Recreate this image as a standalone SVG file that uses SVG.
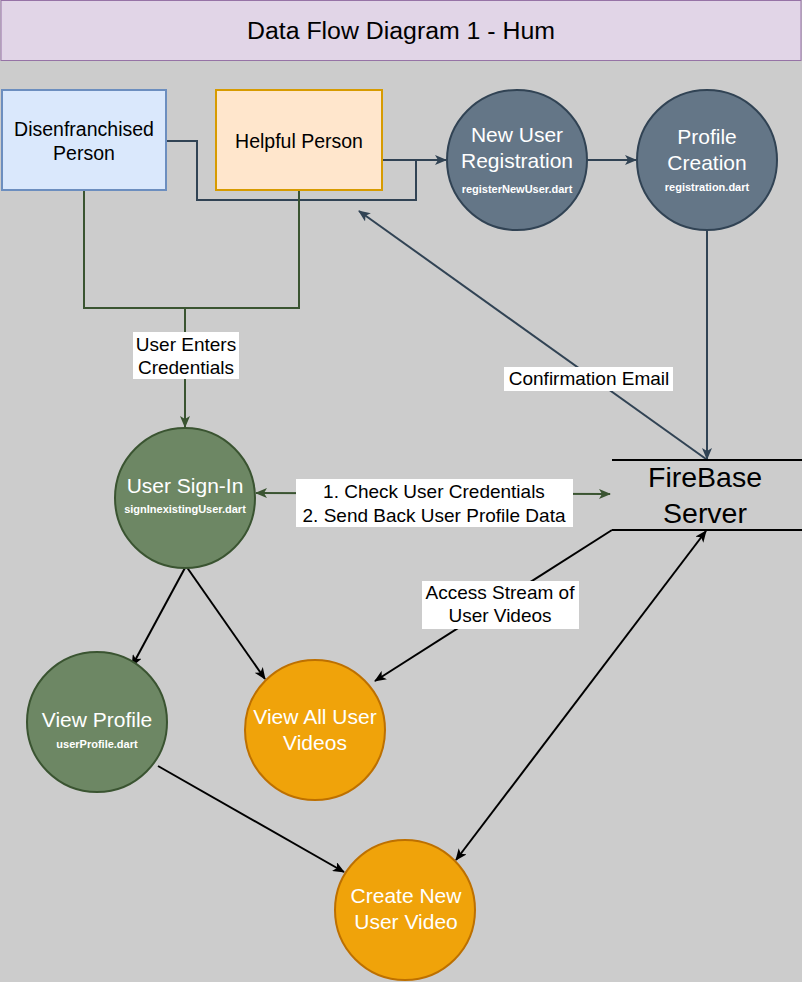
<svg xmlns="http://www.w3.org/2000/svg" width="802" height="982" viewBox="0 0 802 982">
<style>
text{font-family:"Liberation Sans",Arial,sans-serif;}
.lbl{font-size:19px;fill:#000;text-anchor:middle;}
.big{font-size:21px;fill:#fff;text-anchor:middle;}
.small{font-size:11px;fill:#fff;font-weight:bold;text-anchor:middle;}
.slate{fill:#647687;stroke:#314354;stroke-width:2;}
.green{fill:#6d8764;stroke:#3a5431;stroke-width:2;}
.orange{fill:#f0a30a;stroke:#bd7000;stroke-width:2;}
.cs{fill:none;stroke:#314354;stroke-width:2;}
.cg{fill:none;stroke:#3a5431;stroke-width:2;}
.ck{fill:none;stroke:#000;stroke-width:2;}
.bg{fill:#fff;}
</style>
<defs>
<marker id="aS" viewBox="0 0 12 10" refX="11" refY="5" markerWidth="12" markerHeight="10" markerUnits="userSpaceOnUse" orient="auto-start-reverse"><path d="M0,0 L12,5 L0,10 L3,5 Z" fill="#314354"/></marker>
<marker id="aG" viewBox="0 0 12 10" refX="11" refY="5" markerWidth="12" markerHeight="10" markerUnits="userSpaceOnUse" orient="auto-start-reverse"><path d="M0,0 L12,5 L0,10 L3,5 Z" fill="#3a5431"/></marker>
<marker id="aK" viewBox="0 0 12 10" refX="11" refY="5" markerWidth="12" markerHeight="10" markerUnits="userSpaceOnUse" orient="auto-start-reverse"><path d="M0,0 L12,5 L0,10 L3,5 Z" fill="#000"/></marker>
</defs>
<rect x="0" y="0" width="802" height="982" fill="#cccccc"/>

<g id="title">
<rect x="1" y="0.5" width="800" height="60" fill="#e1d5e7" stroke="#9673a6" stroke-width="1"/>
<text x="401" y="39" font-size="23" text-anchor="middle" fill="#000" textLength="308" lengthAdjust="spacingAndGlyphs">Data Flow Diagram 1 - Hum</text>
</g>

<g id="connectors">
<polyline class="cs" points="167,141 197,141 197,200 416,200 416,160"/>
<line class="cs" x1="382" y1="160" x2="446" y2="160" marker-end="url(#aS)"/>
<line class="cs" x1="587" y1="160" x2="636" y2="160" marker-end="url(#aS)"/>
<line class="cs" x1="707" y1="230" x2="707" y2="459" marker-end="url(#aS)"/>
<line class="cs" x1="706" y1="459" x2="359" y2="211" marker-end="url(#aS)"/>
<polyline class="cg" points="84,190 84,308 299,308 299,190"/>
<line class="cg" x1="185" y1="308" x2="185" y2="427" marker-end="url(#aG)"/>
<line class="cg" x1="256" y1="493" x2="610" y2="494" marker-start="url(#aG)" marker-end="url(#aG)"/>
<line class="ck" x1="186" y1="566" x2="132" y2="666" marker-end="url(#aK)"/>
<line class="ck" x1="186" y1="566" x2="265" y2="679" marker-end="url(#aK)"/>
<line class="ck" x1="158" y1="766" x2="344" y2="872" marker-end="url(#aK)"/>
<line class="ck" x1="612" y1="530" x2="375" y2="681" marker-end="url(#aK)"/>
<line class="ck" x1="706" y1="531" x2="456" y2="860" marker-start="url(#aK)" marker-end="url(#aK)"/>
<rect class="bg" x="133" y="332" width="106" height="47"/>
<text class="lbl" x="186" y="351">User Enters</text>
<text class="lbl" x="186" y="374">Credentials</text>
<rect class="bg" x="504" y="367" width="169" height="24"/>
<text class="lbl" x="589" y="385">Confirmation Email</text>
<rect class="bg" x="296" y="479" width="277" height="48"/>
<text class="lbl" x="434" y="498">1. Check User Credentials</text>
<text class="lbl" x="434" y="522">2. Send Back User Profile Data</text>
<rect class="bg" x="422" y="581" width="157" height="48"/>
<text class="lbl" x="500" y="599">Access Stream of</text>
<text class="lbl" x="500" y="622">User Videos</text>
</g>

<g id="disenfranchised">
<rect x="2" y="90" width="164" height="100" fill="#dae8fc" stroke="#6c8ebf" stroke-width="2"/>
<text x="84" y="136" font-size="19.5" text-anchor="middle" fill="#000">Disenfranchised</text>
<text x="84" y="160" font-size="19.5" text-anchor="middle" fill="#000">Person</text>
</g>

<g id="helpful">
<rect x="216" y="90" width="166" height="100" fill="#ffe6cc" stroke="#d79b00" stroke-width="2"/>
<text x="299" y="148" font-size="19.5" text-anchor="middle" fill="#000">Helpful Person</text>
</g>

<g id="newuser">
<circle class="slate" cx="517" cy="160" r="70"/>
<text class="big" x="517" y="142">New User</text>
<text class="big" x="517" y="168">Registration</text>
<text class="small" x="517" y="193">registerNewUser.dart</text>
</g>

<g id="profilecreation">
<circle class="slate" cx="707" cy="160" r="70"/>
<text class="big" x="707" y="144">Profile</text>
<text class="big" x="707" y="170">Creation</text>
<text class="small" x="707" y="191">registration.dart</text>
</g>

<g id="firebase">
<line x1="612" y1="460" x2="802" y2="460" stroke="#000" stroke-width="2"/>
<line x1="612" y1="530" x2="802" y2="530" stroke="#000" stroke-width="2"/>
<text x="705" y="487" font-size="28.5" text-anchor="middle" fill="#000">FireBase</text>
<text x="705" y="523" font-size="28.5" text-anchor="middle" fill="#000">Server</text>
</g>

<g id="signin">
<circle class="green" cx="185" cy="498" r="70"/>
<text class="big" x="185" y="493">User Sign-In</text>
<text class="small" x="185" y="513">signInexistingUser.dart</text>
</g>

<g id="viewprofile">
<circle class="green" cx="97" cy="722" r="70"/>
<text class="big" x="97" y="727">View Profile</text>
<text class="small" x="97" y="748">userProfile.dart</text>
</g>

<g id="viewvideos">
<circle class="orange" cx="315" cy="730" r="70"/>
<text class="big" x="315" y="724">View All User</text>
<text class="big" x="315" y="750">Videos</text>
</g>

<g id="createvideo">
<circle class="orange" cx="405" cy="910" r="70"/>
<text class="big" x="406" y="903">Create New</text>
<text class="big" x="406" y="929">User Video</text>
</g>
</svg>
